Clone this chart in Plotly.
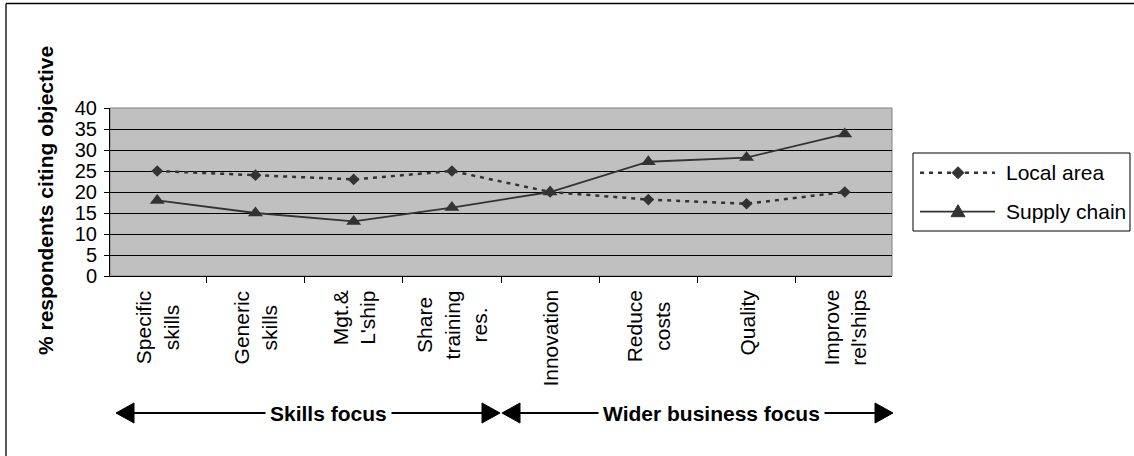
import plotly.graph_objects as go

# ---- data -------------------------------------------------------------
categories = [
    "Specific<br>skills",
    "Generic<br>skills",
    "Mgt.&<br>L'ship",
    "Share<br>training<br>res.",
    "Innovation",
    "Reduce<br>costs",
    "Quality",
    "Improve<br>rel'ships",
]
local_area = [25, 24, 23, 25, 20, 18.2, 17.2, 20]
supply_chain = [18, 15, 13, 16.3, 20, 27.2, 28.2, 33.8]
series_names = ["Local area", "Supply chain"]
group_labels = ["Skills focus", "Wider business focus"]
y_title = "% respondents citing objective"

# ---- layout geometry (pixels) ----------------------------------------
W, H = 1134, 456
PL, PR, PT, PB = 110, 892, 108, 276
FONT = "Arial, 'Liberation Sans', sans-serif"
INK = "#333333"


def px_x(px):
    return (px - PL) / (PR - PL)


def px_y(py):
    return (PB - py) / (PB - PT)


fig = go.Figure()

fig.add_trace(go.Scatter(
    x=categories, y=local_area, name=series_names[0],
    mode="lines+markers",
    line=dict(color=INK, width=2.5, dash="4px,5px"),
    marker=dict(symbol="diamond", size=9, color=INK),
    showlegend=False,
))
fig.add_trace(go.Scatter(
    x=categories, y=supply_chain, name=series_names[1],
    mode="lines+markers",
    line=dict(color=INK, width=1.8),
    marker=dict(symbol="triangle-up", size=13, color=INK),
    showlegend=False,
))

shapes = []
annotations = []

# plot-area frame (grey on the open sides)
shapes.append(dict(type="rect", xref="paper", yref="paper", x0=0, x1=1, y0=0, y1=1,
                   line=dict(color="#808080", width=1), layer="below"))

# outer chart border (left and top edges)
shapes.append(dict(type="line", xref="paper", yref="paper",
                   x0=px_x(6), x1=px_x(6), y0=px_y(3.5), y1=px_y(470),
                   line=dict(color="#000000", width=1.3)))
shapes.append(dict(type="line", xref="paper", yref="paper",
                   x0=px_x(6), x1=px_x(1140), y0=px_y(3.5), y1=px_y(3.5),
                   line=dict(color="#000000", width=1.3)))

# category labels, rotated, lines centred within each label
for c in categories:
    annotations.append(dict(
        x=c, xref="x", y=0, yref="paper", yshift=-12,
        text=c, textangle=-90, showarrow=False,
        xanchor="center", yanchor="top", align="center",
        font=dict(family=FONT, size=21, color="#000000"),
    ))

# y-axis title
annotations.append(dict(
    x=px_x(45), y=px_y(201), xref="paper", yref="paper",
    text="<b>" + y_title + "</b>", textangle=-90, showarrow=False,
    xanchor="center", yanchor="middle",
    font=dict(family=FONT, size=21, color="#000000"),
))

# group arrows below the categories
ARROW_Y = 413
HEAD_L, HEAD_H = 18, 10
spans = [(116, 500, 328), (502, 893, 711)]
for (x0, x1, xc), label in zip(spans, group_labels):
    shapes.append(dict(type="line", xref="paper", yref="paper",
                       x0=px_x(x0 + 4), x1=px_x(x1 - 4), y0=px_y(ARROW_Y), y1=px_y(ARROW_Y),
                       line=dict(color="#000000", width=2)))
    shapes.append(dict(type="path", xref="paper", yref="paper",
                       xsizemode="pixel", ysizemode="pixel",
                       xanchor=px_x(x0), yanchor=px_y(ARROW_Y),
                       path=f"M0,0 L{HEAD_L},{HEAD_H} L{HEAD_L},{-HEAD_H} Z",
                       fillcolor="#000000", line=dict(color="#000000", width=1)))
    shapes.append(dict(type="path", xref="paper", yref="paper",
                       xsizemode="pixel", ysizemode="pixel",
                       xanchor=px_x(x1), yanchor=px_y(ARROW_Y),
                       path=f"M0,0 L{-HEAD_L},{HEAD_H} L{-HEAD_L},{-HEAD_H} Z",
                       fillcolor="#000000", line=dict(color="#000000", width=1)))
    annotations.append(dict(
        x=px_x(xc), y=px_y(ARROW_Y), xref="paper", yref="paper",
        text="<b>" + label + "</b>", showarrow=False,
        xanchor="center", yanchor="middle",
        bgcolor="#ffffff", borderpad=4,
        font=dict(family=FONT, size=21, color="#000000"),
    ))

# legend box
shapes.append(dict(type="rect", xref="paper", yref="paper",
                   x0=px_x(913), x1=px_x(1130), y0=px_y(231), y1=px_y(153),
                   line=dict(color="#000000", width=1), fillcolor="#ffffff"))
LEG_ROWS = [172.7, 211.7]
shapes.append(dict(type="line", xref="paper", yref="paper",
                   x0=px_x(920), x1=px_x(995), y0=px_y(LEG_ROWS[0]), y1=px_y(LEG_ROWS[0]),
                   line=dict(color=INK, width=2.5, dash="4px,5px")))
shapes.append(dict(type="path", xref="paper", yref="paper",
                   xsizemode="pixel", ysizemode="pixel",
                   xanchor=px_x(958), yanchor=px_y(LEG_ROWS[0]),
                   path="M-6,0 L0,6 L6,0 L0,-6 Z",
                   fillcolor=INK, line=dict(color=INK, width=1)))
shapes.append(dict(type="line", xref="paper", yref="paper",
                   x0=px_x(920), x1=px_x(995), y0=px_y(LEG_ROWS[1]), y1=px_y(LEG_ROWS[1]),
                   line=dict(color=INK, width=1.8)))
shapes.append(dict(type="path", xref="paper", yref="paper",
                   xsizemode="pixel", ysizemode="pixel",
                   xanchor=px_x(958), yanchor=px_y(LEG_ROWS[1]),
                   path="M-7,-5 L7,-5 L0,7 Z",
                   fillcolor=INK, line=dict(color=INK, width=1)))
for name, row in zip(series_names, LEG_ROWS):
    annotations.append(dict(
        x=px_x(1004), y=px_y(row), xref="paper", yref="paper",
        text=name, showarrow=False, xanchor="left", yanchor="middle",
        font=dict(family=FONT, size=21, color="#000000"),
    ))

fig.update_layout(
    width=W, height=H, autosize=False,
    margin=dict(l=PL, r=W - PR, t=PT, b=H - PB, pad=0),
    paper_bgcolor="#ffffff",
    plot_bgcolor="#c0c0c0",
    font=dict(family=FONT, size=20, color="#000000"),
    showlegend=False,
    shapes=shapes,
    annotations=annotations,
    xaxis=dict(
        type="category", tickson="boundaries",
        showticklabels=False, showgrid=False,
        ticks="outside", ticklen=6, tickcolor="#000000", tickwidth=1,
        showline=True, linecolor="#000000", linewidth=1,
        zeroline=False, fixedrange=True,
    ),
    yaxis=dict(
        range=[0, 40], dtick=5, tick0=0,
        ticks="outside", ticklen=5, tickcolor="#000000", tickwidth=1,
        showgrid=True, gridcolor="#000000", gridwidth=1,
        showline=True, linecolor="#000000", linewidth=1,
        zeroline=False, fixedrange=True,
        tickfont=dict(family=FONT, size=20, color="#000000"),
        ticklabelstandoff=3,
    ),
)

fig.write_html("out.html")
